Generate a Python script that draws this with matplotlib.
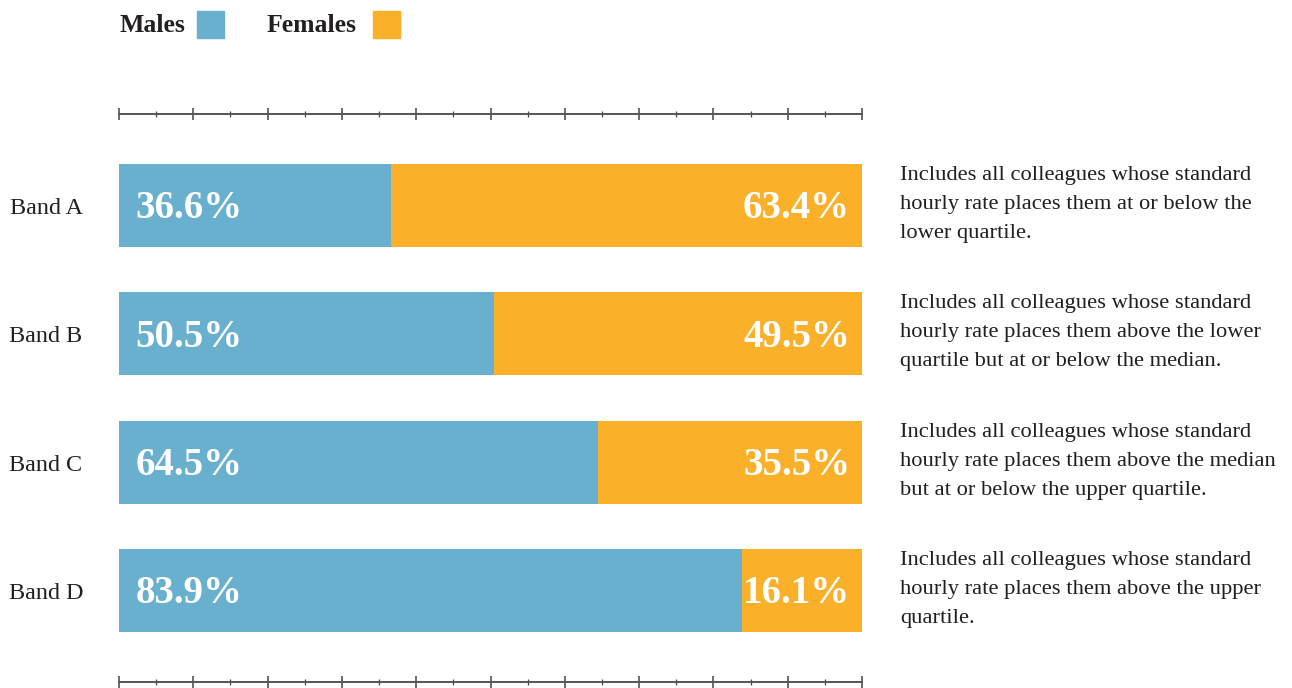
import matplotlib
matplotlib.use("Agg")
import matplotlib.pyplot as plt
from matplotlib.patches import Rectangle
from matplotlib.ticker import MultipleLocator

bands = ['Band A', 'Band B', 'Band C', 'Band D']
males = [36.6, 50.5, 64.5, 83.9]
females = [63.4, 49.5, 35.5, 16.1]
descriptions = [
    'Includes all colleagues whose standard\nhourly rate places them at or below the\nlower quartile.',
    'Includes all colleagues whose standard\nhourly rate places them above the lower\nquartile but at or below the median.',
    'Includes all colleagues whose standard\nhourly rate places them above the median\nbut at or below the upper quartile.',
    'Includes all colleagues whose standard\nhourly rate places them above the upper\nquartile.',
]

blue = '#68B0CD'
orange = '#FAB028'
ink = '#231F20'

plt.rcParams['font.family'] = ['Liberation Serif', 'DejaVu Serif']

W, H = 1292, 688
fig = plt.figure(figsize=(W / 100, H / 100), dpi=100)

def fx(px):
    return px / W

def fy(py):
    return 1 - py / H

ax = fig.add_axes([fx(119), fy(682), fx(862) - fx(119), (682 - 114) / H])

pos = list(range(len(bands)))
ax.barh(pos, males, height=0.647, color=blue)
ax.barh(pos, females, left=males, height=0.647, color=orange)

ax.set_xlim(0, 100)
ax.set_ylim(3.713, -0.713)

# nudge so the glyphs sit in the middle of the bar
dy = 0.025
for i in pos:
    ax.text(2.2, i + dy, f'{males[i]:.1f}%', color='white', fontsize=28,
            fontweight='bold', va='center', ha='left')
    ax.text(98.4, i + dy, f'{females[i]:.1f}%', color='white', fontsize=28,
            fontweight='bold', va='center', ha='right')

# band labels and descriptions, outside the axes
for i in pos:
    y = ax.transData.transform((0, i))[1] / H
    fig.text(fx(46), y - 3 / H, bands[i], fontsize=17.4, color=ink,
             ha='center', va='center')
    fig.text(fx(900), y + 1 / H, descriptions[i], fontsize=16.2, color=ink,
             ha='left', va='center', linespacing=1.72)

# axis: only the top and bottom lines with ticks
for side in ['left', 'right']:
    ax.spines[side].set_visible(False)
for side in ['top', 'bottom']:
    ax.spines[side].set_color('#555555')
    ax.spines[side].set_linewidth(1.4)
ax.xaxis.set_major_locator(MultipleLocator(10))
ax.xaxis.set_minor_locator(MultipleLocator(5))
ax.tick_params(axis='x', which='both', direction='inout', top=True, bottom=True,
               labelbottom=False, labeltop=False, color='#444444')
ax.tick_params(axis='x', which='major', length=8.5, width=1.1)
ax.tick_params(axis='x', which='minor', length=4.5, width=0.9)
ax.set_yticks([])

# legend
fig.text(fx(119), fy(26), 'Males', fontsize=18.5, fontweight='bold', color=ink,
         ha='left', va='center')
fig.patches.append(Rectangle((fx(197), fy(38)), fx(27), 27 / H, color=blue,
                             transform=fig.transFigure, figure=fig))
fig.text(fx(267), fy(26), 'Females', fontsize=18.5, fontweight='bold', color=ink,
         ha='left', va='center')
fig.patches.append(Rectangle((fx(373), fy(38)), fx(27), 27 / H, color=orange,
                             transform=fig.transFigure, figure=fig))

fig.savefig('out.png', dpi=100)
